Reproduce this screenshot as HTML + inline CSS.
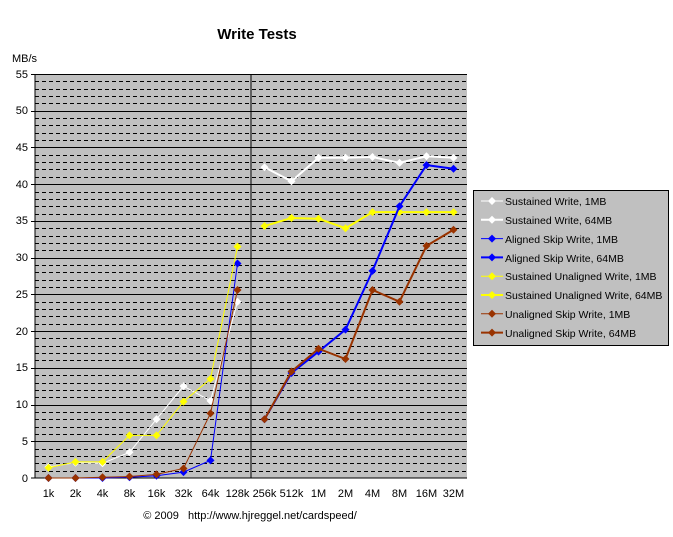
<!DOCTYPE html>
<html><head><meta charset="utf-8"><style>
body{margin:0;background:#fff}
svg{display:block;font-family:"Liberation Sans",Arial,sans-serif}
</style></head><body>
<svg id="s" width="673" height="537" xmlns="http://www.w3.org/2000/svg">
<rect x="0" y="0" width="673" height="537" fill="#fff"/>
<text x="257" y="39" font-size="15" font-weight="bold" text-anchor="middle">Write Tests</text>
<text x="12" y="62" font-size="11">MB/s</text>
<rect x="35" y="74" width="432" height="404" fill="#c0c0c0"/>
<g id="grid"></g>
<line x1="251" y1="74" x2="251" y2="478" stroke="#000" stroke-width="1"/>
<line x1="35" y1="74" x2="35" y2="478" stroke="#000"/>
<line x1="35" y1="478" x2="467" y2="478" stroke="#000"/>
<g font-size="11" text-anchor="end" id="yl">
<text x="28" y="482">0</text><text x="28" y="445">5</text><text x="28" y="408">10</text><text x="28" y="371">15</text><text x="28" y="335">20</text><text x="28" y="298">25</text><text x="28" y="261">30</text><text x="28" y="224">35</text><text x="28" y="188">40</text><text x="28" y="151">45</text><text x="28" y="114">50</text><text x="28" y="78">55</text>
</g>
<g font-size="11" text-anchor="middle">
<text x="48.5" y="497">1k</text><text x="75.5" y="497">2k</text><text x="102.5" y="497">4k</text><text x="129.5" y="497">8k</text><text x="156.5" y="497">16k</text><text x="183.5" y="497">32k</text><text x="210.5" y="497">64k</text><text x="237.5" y="497">128k</text><text x="264.5" y="497">256k</text><text x="291.5" y="497">512k</text><text x="318.5" y="497">1M</text><text x="345.5" y="497">2M</text><text x="372.5" y="497">4M</text><text x="399.5" y="497">8M</text><text x="426.5" y="497">16M</text><text x="453.5" y="497">32M</text>
</g>
<text x="250" y="519" font-size="11" text-anchor="middle" xml:space="preserve">© 2009   http://www.hjreggel.net/cardspeed/</text>
<g id="data"></g>
<rect x="473.5" y="190.5" width="195" height="155" fill="#c0c0c0" stroke="#000"/>
<g id="leg"></g>
<g font-size="10.5">
<text x="505" y="205">Sustained Write, 1MB</text>
<text x="505" y="224">Sustained Write, 64MB</text>
<text x="505" y="243">Aligned Skip Write, 1MB</text>
<text x="505" y="262">Aligned Skip Write, 64MB</text>
<text x="505" y="280">Sustained Unaligned Write, 1MB</text>
<text x="505" y="299">Sustained Unaligned Write, 64MB</text>
<text x="505" y="318">Unaligned Skip Write, 1MB</text>
<text x="505" y="337">Unaligned Skip Write, 64MB</text>
</g>
</svg>
<script>
var NS="http://www.w3.org/2000/svg";
function el(p,t,a){var e=document.createElementNS(NS,t);for(var k in a)e.setAttribute(k,a[k]);document.getElementById(p).appendChild(e);return e;}
var k=404/55;function Y(v){return 478-v*k;}function X(i){return 48.5+27*i;}
for(var v=1;v<=55;v++){var y=Math.round(Y(v))+0.5;
 if(v%5==0){el("grid","line",{x1:35,x2:467,y1:y,y2:y,stroke:"#000"});el("grid","line",{x1:31,x2:35,y1:y,y2:y,stroke:"#000"});}
 else el("grid","line",{x1:35,x2:467,y1:y,y2:y,stroke:"#000","stroke-dasharray":"4,3"});}
el("grid","line",{x1:31,x2:35,y1:478,y2:478,stroke:"#000"});
var S=[
["#fff",1,0,[1.5,2.1,2.0,3.5,8,12.5,10.5,24]],
["#00f",1,0,[0,0,0,0.1,0.3,0.8,2.4,29.2]],
["#ff0",1,0,[1.4,2.2,2.2,5.8,5.8,10.4,13.5,31.5]],
["#993300",1,0,[0,0,0.1,0.2,0.5,1.3,8.8,25.6]],
["#fff",2,8,[42.3,40.4,43.6,43.6,43.7,42.9,43.8,43.6]],
["#ff0",2,8,[34.3,35.4,35.3,34.0,36.2,36.2,36.2,36.2]],
["#00f",2,8,[8,14.3,17.2,20.2,28.2,37.0,42.6,42.1]],
["#993300",2,8,[8,14.5,17.6,16.2,25.6,24.0,31.6,33.8]]];
function dia(p,x,y,c){el(p,"polygon",{points:(x-4)+","+y+" "+x+","+(y-4)+" "+(x+4)+","+y+" "+x+","+(y+4),fill:c});}
S.forEach(function(s){var pts=s[3].map(function(v,i){return X(i+s[2])+","+Y(v);}).join(" ");
 el("data","polyline",{points:pts,fill:"none",stroke:s[0],"stroke-width":s[1]});
 s[3].forEach(function(v,i){dia("data",X(i+s[2]),Y(v),s[0]);});});
var L=[["#fff",1],["#fff",2],["#00f",1],["#00f",2],["#ff0",1],["#ff0",2],["#993300",1],["#993300",2]];
L.forEach(function(l,i){var y=201+18.8*i;el("leg","line",{x1:481,x2:503,y1:y,y2:y,stroke:l[0],"stroke-width":l[1]});dia("leg",492,y,l[0]);});
</script>
</body></html>
